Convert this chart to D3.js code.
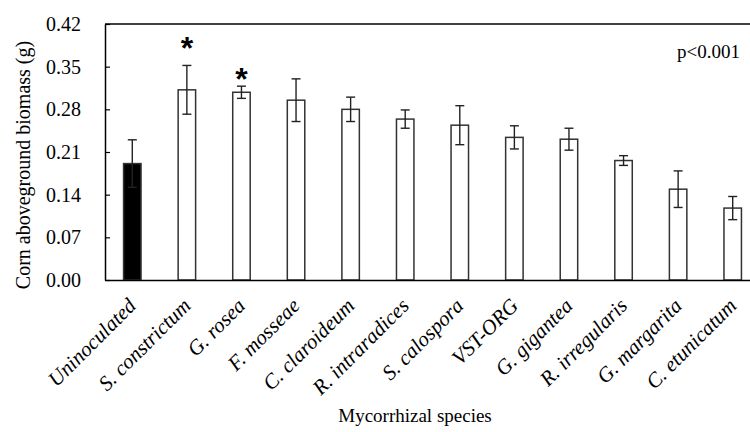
<!DOCTYPE html>
<html>
<head>
<meta charset="utf-8">
<script src="https://cdn.jsdelivr.net/npm/d3@7"></script>
<style>
  body { margin: 0; background: #fff; }
  text { font-family: "Liberation Serif", "Times New Roman", serif; fill: #000; }
</style>
</head>
<body>
<svg id="chart" width="750" height="432"></svg>
<script>
// values
const species = ["Uninoculated", "S. constrictum", "G. rosea", "F. mosseae", "C. claroideum",
    "R. intraradices", "S. calospora", "VST-ORG", "G. gigantea", "R. irregularis",
    "G. margarita", "C. etunicatum"];
const biomass = [0.191, 0.312, 0.308, 0.295, 0.280, 0.264, 0.254, 0.234, 0.231, 0.196, 0.149, 0.118];
const stdErr  = [0.039, 0.040, 0.010, 0.035, 0.020, 0.015, 0.032, 0.019, 0.018, 0.008, 0.030, 0.019];
const yTicks = [0, 0.07, 0.14, 0.21, 0.28, 0.35, 0.42];
const starSpecies = ["S. constrictum", "G. rosea"];
const starLevel = [0.392, 0.342];

var margin = {top: 24, left: 105, bottom: 280},
    plotRight = 760;

var svg = d3.select("#chart");

var x = d3.scaleBand()
    .domain(species)
    .range([margin.left, plotRight])
    .paddingInner(0.68)
    .paddingOuter(0.34);

var y = d3.scaleLinear()
    .domain([0, 0.42])
    .range([margin.bottom, margin.top]);

// bars
svg.append("g").selectAll("rect")
    .data(species)
    .enter().append("rect")
    .attr("x", d => x(d))
    .attr("y", (d, i) => y(biomass[i]))
    .attr("width", x.bandwidth())
    .attr("height", (d, i) => y(0) - y(biomass[i]))
    .attr("fill", (d, i) => i == 0 ? "#000" : "#fff")
    .attr("stroke", "#333")
    .attr("stroke-width", 1.5);

// error bars
var capW = 9;
var err = svg.append("g").attr("stroke", "#222").attr("stroke-width", 1.4);
species.forEach(function(d, i) {
    var cx = x(d) + x.bandwidth() / 2;
    var hi = y(biomass[i] + stdErr[i]), lo = y(biomass[i] - stdErr[i]);
    err.append("line").attr("x1", cx).attr("x2", cx).attr("y1", hi).attr("y2", lo);
    err.append("line").attr("x1", cx - capW / 2).attr("x2", cx + capW / 2).attr("y1", hi).attr("y2", hi);
    err.append("line").attr("x1", cx - capW / 2).attr("x2", cx + capW / 2).attr("y1", lo).attr("y2", lo);
});

// y axis with inside ticks
var yAxis = svg.append("g")
    .attr("transform", "translate(" + margin.left + ",0)")
    .call(d3.axisLeft(y).tickValues(yTicks).tickFormat(d3.format(".2f"))
        .tickSizeInner(-5).tickSizeOuter(0).tickPadding(24));
yAxis.select(".domain").attr("stroke", "#000").attr("stroke-width", 1.5);
yAxis.selectAll(".tick line").attr("stroke", "#000").attr("stroke-width", 1.2);
yAxis.selectAll(".tick text")
    .style("font-family", "'Liberation Serif', 'Times New Roman', serif")
    .style("font-size", "20px");

// x axis
var xAxis = svg.append("g")
    .attr("transform", "translate(0," + margin.bottom + ")")
    .call(d3.axisBottom(x).tickSize(0).tickSizeOuter(0));
xAxis.select(".domain").attr("stroke", "#000").attr("stroke-width", 1.5);
xAxis.selectAll(".tick text")
    .attr("text-anchor", "end")
    .attr("x", 0).attr("y", 0).attr("dy", 0)
    .attr("transform", "translate(5,27) rotate(-45)")
    .style("font-family", "'Liberation Serif', 'Times New Roman', serif")
    .style("font-style", "italic")
    .style("font-size", "21px");

// top frame line
svg.append("line")
    .attr("x1", margin.left).attr("x2", plotRight)
    .attr("y1", y(0.42)).attr("y2", y(0.42))
    .attr("stroke", "#000").attr("stroke-width", 1.5);

// significance stars
svg.append("g").selectAll("text")
    .data(starSpecies)
    .enter().append("text")
    .attr("x", d => x(d) + x.bandwidth() / 2)
    .attr("y", (d, i) => y(starLevel[i]) + 18)
    .attr("text-anchor", "middle")
    .style("font-family", "'Liberation Sans', Arial, sans-serif")
    .style("font-weight", "bold")
    .style("font-size", "32px")
    .text("*");

svg.append("text")
    .attr("x", 740).attr("y", 58)
    .attr("text-anchor", "end")
    .style("font-size", "19px")
    .text("p<0.001");

// axis titles
svg.append("text")
    .attr("transform", "rotate(-90)")
    .attr("x", -165).attr("y", 30)
    .attr("text-anchor", "middle")
    .style("font-size", "20px")
    .text("Corn aboveground biomass (g)");

svg.append("text")
    .attr("x", 415).attr("y", 422)
    .attr("text-anchor", "middle")
    .style("font-size", "19px")
    .text("Mycorrhizal species");
</script>
</body>
</html>
